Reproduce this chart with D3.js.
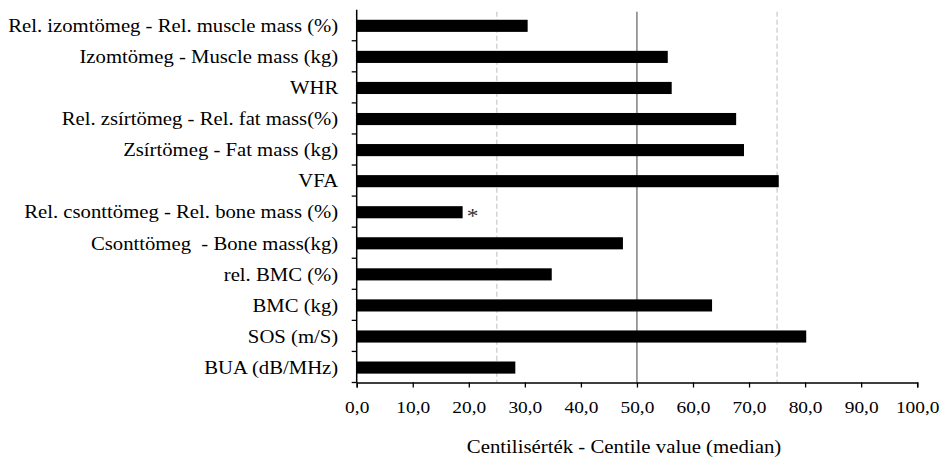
<!DOCTYPE html>
<html>
<head>
<meta charset="utf-8">
<script src="https://cdn.jsdelivr.net/npm/d3@7/dist/d3.min.js"></script>
<style>
  html, body { margin: 0; padding: 0; background: #fff; }
  svg { display: block; }
</style>
</head>
<body>
<svg id="chart" width="942" height="457"></svg>
<script>
const categories = [
  "Rel. izomtömeg - Rel. muscle mass (%)",
  "Izomtömeg - Muscle mass (kg)",
  "WHR",
  "Rel. zsírtömeg - Rel. fat mass(%)",
  "Zsírtömeg - Fat mass (kg)",
  "VFA",
  "Rel. csonttömeg - Rel. bone mass (%)",
  "Csonttömeg  - Bone mass(kg)",
  "rel. BMC (%)",
  "BMC (kg)",
  "SOS (m/S)",
  "BUA (dB/MHz)"
];
const values = [30.5, 55.5, 56.2, 67.7, 69.1, 75.3, 18.9, 47.5, 34.8, 63.4, 80.2, 28.3];
const markers = ["", "", "", "", "", "", "*", "", "", "", "", ""];
const xTicks = [0, 10, 20, 30, 40, 50, 60, 70, 80, 90, 100];
const dashedRefs = [25, 75];
const solidRefs = [50];
const xTitle = "Centilisérték - Centile value (median)";

(function () {
const FONT = "Liberation Serif";
const SX = 1.12; // horizontal glyph stretch seen in the reference
const svg = d3.select("#chart");
const pLeft = 356.7, pRight = 917.2, pTop = 9.7, pBottom = 382.5;

const x = d3.scaleLinear().domain([0, 100]).range([pLeft, pRight]);
const y = d3.scaleBand().domain(categories).range([pTop, pBottom]).paddingInner(0.61).paddingOuter(0.305);
const yc = d => y(d) + y.bandwidth() / 2 + 0.6;

// reference lines
svg.selectAll("line.dref").data(dashedRefs).join("line")
  .attr("class", "dref")
  .attr("x1", d => x(d)).attr("x2", d => x(d))
  .attr("y1", pTop + 2).attr("y2", pBottom)
  .attr("stroke", "#c8c8c8").attr("stroke-width", 1.2)
  .attr("stroke-dasharray", "5,3");
svg.selectAll("line.sref").data(solidRefs).join("line")
  .attr("class", "sref")
  .attr("x1", d => x(d)).attr("x2", d => x(d))
  .attr("y1", pTop + 2).attr("y2", pBottom)
  .attr("stroke", "#404040").attr("stroke-width", 1);

// bars
svg.selectAll("rect.bar").data(values).join("rect")
  .attr("class", "bar")
  .attr("x", x(0))
  .attr("y", (d, i) => y(categories[i]) + 0.6)
  .attr("width", d => x(d) - x(0))
  .attr("height", y.bandwidth())
  .attr("fill", "#000");

// markers
svg.selectAll("text.mark").data(values).join("text")
  .attr("class", "mark")
  .attr("transform", (d, i) => `translate(${x(d) + 10},${yc(categories[i]) + 11}) scale(${SX},1)`)
  .attr("text-anchor", "middle")
  .attr("font-family", FONT)
  .attr("font-size", 21)
  .attr("fill", "#333")
  .text((d, i) => markers[i]);

// x axis
const xAxis = d3.axisBottom(x).tickValues(xTicks).tickSize(5).tickPadding(13)
  .tickFormat(d => d3.format(".1f")(d).replace(".", ","));
const gx = svg.append("g").attr("transform", `translate(0,${pBottom})`).call(xAxis)
  .attr("font-family", FONT).attr("font-size", 17.3);
gx.select(".domain").attr("stroke", "#000").attr("stroke-width", 1.5);
gx.selectAll(".tick line").attr("stroke", "#000").attr("stroke-width", 1.3);
gx.selectAll(".tick text").attr("fill", "#000").attr("transform", `scale(${SX},1)`);

// y axis
svg.append("line")
  .attr("x1", pLeft).attr("x2", pLeft).attr("y1", pTop).attr("y2", pBottom)
  .attr("stroke", "#000").attr("stroke-width", 1.5);
const boundaries = d3.range(1, categories.length + 1).map(i => pTop + i * y.step());
svg.selectAll("line.ytick").data(boundaries).join("line")
  .attr("class", "ytick")
  .attr("x1", pLeft - 5).attr("x2", pLeft)
  .attr("y1", d => d).attr("y2", d => d)
  .attr("stroke", "#000").attr("stroke-width", 1.3);
svg.selectAll("text.ylab").data(categories).join("text")
  .attr("class", "ylab")
  .attr("transform", d => `translate(${pLeft - 18.5},${yc(d) + 6.2}) scale(${SX},1)`)
  .attr("text-anchor", "end")
  .attr("font-family", FONT)
  .attr("font-size", 18.5)
  .attr("fill", "#000")
  .style("white-space", "pre")
  .text(d => d);

// x title
svg.append("text")
  .attr("transform", `translate(624,453) scale(${SX},1)`)
  .attr("text-anchor", "middle")
  .attr("font-family", FONT)
  .attr("font-size", 18.6)
  .attr("fill", "#000")
  .text(xTitle);
})();
</script>
</body>
</html>
